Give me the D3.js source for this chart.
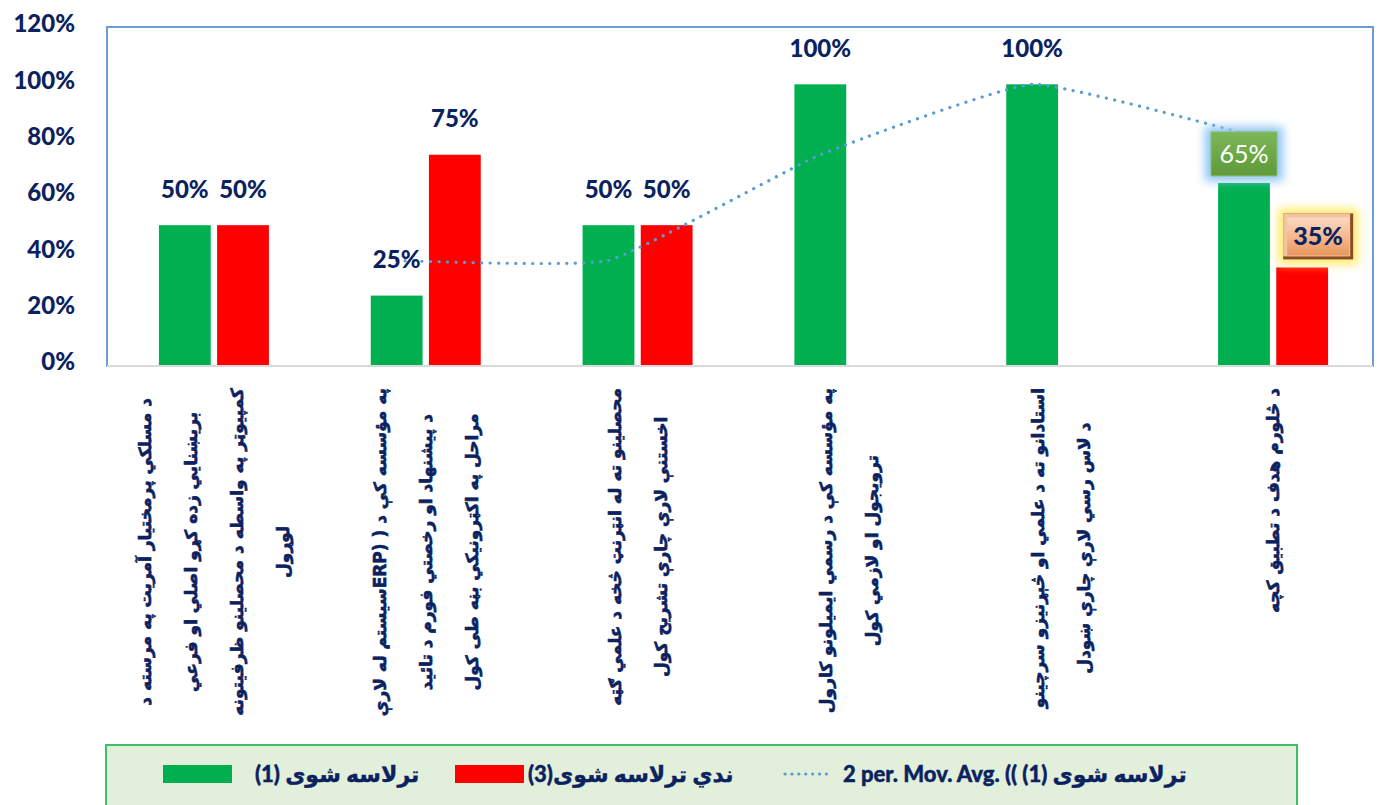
<!DOCTYPE html>
<html>
<head>
<meta charset="utf-8">
<script src="https://cdn.jsdelivr.net/npm/d3@7"></script>
<style>
  body { margin: 0; background: #fff; }
  svg { display: block; }
</style>
</head>
<body>
<div id="chart"></div>
<script>
(function bars(){

  // categories, each one as its lines of text
  const categories = [
    ["د مسلکي پرمختیار آمریت په مرسته د", "بریښنايي زده کړو اصلي او فرعي", "کمپیوټر په واسطه د محصلینو ظرفیتونه", "لوړول"],
    ["په مؤسسه کې د ( (ERPسیستم له لارې", "د پیشنهاد او رخصتي فورم د تائید", "مراحل په اکټرونیکي بڼه طی کول"],
    ["محصلینو ته له انټرنټ څخه د علمي ګټه", "اخستنې لارې چارې تشریح کول"],
    ["په مؤسسه کې د رسمي ایمیلونو کارول", "ترویجول او لازمي کول"],
    ["استادانو ته د علمي او څېړنیزو سرچینو", "د لاس رسي لارې چارې ښودل"],
    ["د څلورم هدف د تطبیق کچه"]
  ];
  const achieved = [0.50, 0.25, 0.50, 1.00, 1.00, 0.65];     // ترلاسه شوی (1)
  const notAchieved = [0.50, 0.75, 0.50, 0, 0, 0.35];        // ندي ترلاسه شوی (3)
  const movingAvg = [null, 0.375, 0.375, 0.75, 1.00, 0.825]; // 2 per. Mov. Avg.
  const yTicks = [0, 0.2, 0.4, 0.6, 0.8, 1.0, 1.2];
  const legendLabels = ["(1) ترلاسه شوی", "(3)ندي ترلاسه  شوی", "2 per. Mov. Avg. (( (1) ترلاسه شوی"];

  const width = 1387, height = 805;
  const navy = "#0b2260", green = "#00b050", red = "#ff0000", blue = "#5b9bd5";
  const font = "Lato, 'DejaVu Sans', sans-serif";

  const svg = d3.select("#chart")
    .append("svg")
    .attr("width", width)
    .attr("height", height);

  const defs = svg.append("defs");
  defs.append("filter").attr("id", "glow")
    .attr("x", "-50%").attr("y", "-50%").attr("width", "200%").attr("height", "200%")
    .append("feGaussianBlur").attr("stdDeviation", 5);
  const gG = defs.append("linearGradient").attr("id", "gGreen").attr("x2", 0).attr("y2", 1);
  gG.append("stop").attr("offset", 0).attr("stop-color", "#7cb65a");
  gG.append("stop").attr("offset", 1).attr("stop-color", "#5e9a38");
  const gP = defs.append("linearGradient").attr("id", "gPeach").attr("x2", 0).attr("y2", 1);
  gP.append("stop").attr("offset", 0).attr("stop-color", "#fbd9c2");
  gP.append("stop").attr("offset", 0.5).attr("stop-color", "#f6b990");
  gP.append("stop").attr("offset", 1).attr("stop-color", "#e8965f");

  const idx = d3.range(categories.length);

  const y = d3.scaleLinear().domain([0, 1.2]).range([366, 28]);
  const x0 = d3.scaleBand().domain(idx).range([108, 1379]);
  const x1 = d3.scaleBand().domain(["a", "n"]).range([0, 110]).paddingInner(12 / 110);
  const off = (x0.bandwidth() - 110) / 2;
  const bx = (i, s) => x0(i) + off + x1(s);

  // plot frame
  svg.append("rect")
    .attr("x", 107).attr("y", 27).attr("width", 1266).attr("height", 339)
    .attr("fill", "none").attr("stroke", "#6d9fd6").attr("stroke-width", 2);

  // y axis labels
  const yAxis = svg.append("g")
    .attr("transform", "translate(107,-4)")
    .call(d3.axisLeft(y).tickValues(yTicks).tickFormat(d3.format(".0%")).tickSize(0).tickPadding(32));
  yAxis.select(".domain").remove();
  yAxis.selectAll("text")
    .attr("fill", navy).attr("font-family", font).attr("font-weight", "900").attr("font-size", 24);

  // bars
  const series = [["a", achieved, green], ["n", notAchieved, red]];
  series.forEach(([key, vals, color]) => {
    svg.append("g").selectAll("rect")
      .data(idx.filter(i => vals[i] > 0))
      .join("rect")
      .attr("x", i => bx(i, key))
      .attr("y", i => y(vals[i]))
      .attr("width", x1.bandwidth())
      .attr("height", i => y(0) - y(vals[i]))
      .attr("fill", color);
  });

  // bottom axis line
  svg.append("line")
    .attr("x1", 107).attr("x2", 1373).attr("y1", y(0)).attr("y2", y(0))
    .attr("stroke", "#d9d9d9").attr("stroke-width", 2);

  // moving average trendline through the green bars
  const ma = idx.filter(i => movingAvg[i] != null);
  svg.append("path")
    .attr("d", d3.line()
      .x(i => bx(i, "a") + x1.bandwidth() / 2)
      .y(i => y(movingAvg[i]))
      .curve(d3.curveCardinal.tension(0.6))(ma))
    .attr("fill", "none").attr("stroke", blue).attr("stroke-width", 3.2)
    .attr("stroke-linecap", "round").attr("stroke-dasharray", "0.1 8.4");

  // plain value labels
  const last = categories.length - 1;
  series.forEach(([key, vals]) => {
    svg.append("g").selectAll("text")
      .data(idx.filter(i => vals[i] > 0 && i !== last))
      .join("text")
      .attr("x", i => bx(i, key) + x1.bandwidth() / 2)
      .attr("y", i => y(vals[i]) - 36)
      .attr("dy", "0.35em")
      .attr("text-anchor", "middle")
      .attr("fill", navy).attr("font-family", font).attr("font-weight", "900").attr("font-size", 24)
      .text(i => d3.format(".0%")(vals[i]));
  });

  // highlighted labels of the last category
  const gx = bx(last, "a") + x1.bandwidth() / 2;
  const gy = y(achieved[last]) - 29;
  const lg = svg.append("g").attr("transform", `translate(${gx},${gy})`);
  lg.append("rect").attr("x", -39).attr("y", -27).attr("width", 78).attr("height", 54)
    .attr("fill", "#8cc4f6").attr("filter", "url(#glow)");
  lg.append("rect").attr("x", -33).attr("y", -22).attr("width", 66).attr("height", 44)
    .attr("fill", "url(#gGreen)").attr("stroke", "#8cc06a").attr("stroke-width", 1);
  lg.append("text").attr("dy", "0.36em").attr("text-anchor", "middle")
    .attr("fill", "#fff").attr("font-family", font).attr("font-size", 25)
    .text(d3.format(".0%")(achieved[last]));

  const rx = bx(last, "n") + x1.bandwidth() / 2 + 16;
  const ry = y(notAchieved[last]) - 31;
  const lr = svg.append("g").attr("transform", `translate(${rx},${ry})`);
  lr.append("rect").attr("x", -40).attr("y", -28).attr("width", 80).attr("height", 56)
    .attr("fill", "#ffeb6e").attr("filter", "url(#glow)");
  lr.append("rect").attr("x", -35).attr("y", -23).attr("width", 70).attr("height", 46)
    .attr("fill", "#8a4a22");
  lr.append("rect").attr("x", -35).attr("y", -23).attr("width", 67).attr("height", 43)
    .attr("fill", "#f3c3a0");
  lr.append("rect").attr("x", -31).attr("y", -19).attr("width", 62).attr("height", 38)
    .attr("fill", "url(#gPeach)");
  lr.append("text").attr("dy", "0.36em").attr("text-anchor", "middle")
    .attr("fill", navy).attr("font-family", font).attr("font-weight", "900").attr("font-size", 25)
    .text(d3.format(".0%")(notAchieved[last]));

  // rotated category labels
  const lineGap = 46, top = 388;
  idx.forEach(i => {
    const cx = x0(i) + x0.bandwidth() / 2;
    const lines = categories[i];
    const g = svg.append("g").attr("transform", `translate(${cx},${top}) rotate(-90)`);
    const t = g.selectAll("text")
      .data(lines)
      .join("text")
      .attr("y", (d, k) => (k - (lines.length - 1) / 2) * lineGap)
      .attr("dominant-baseline", "central")
      .attr("text-anchor", "middle")
      .attr("direction", "rtl")
      .attr("fill", navy).attr("stroke", navy).attr("stroke-width", 0.6)
      .attr("font-family", "'DejaVu Sans', sans-serif")
      .attr("font-weight", "bold").attr("font-size", 17)
      .text(d => d);
    const maxW = d3.max(t.nodes(), n => n.getComputedTextLength());
    t.attr("x", -maxW / 2);
  });

  // legend
  svg.append("rect")
    .attr("x", 106).attr("y", 745).attr("width", 1191).attr("height", 70)
    .attr("fill", "#e2efda").attr("stroke", "#3fbd63").attr("stroke-width", 2);
  const lgItems = [
    { x: 163, tx: 255, type: "rect", color: green },
    { x: 455, tx: 528, type: "rect", color: red },
    { x: 785, tx: 843, type: "line", color: blue }
  ];
  lgItems.forEach((it, k) => {
    if (it.type === "rect") {
      svg.append("rect").attr("x", it.x).attr("y", 765).attr("width", 69).attr("height", 18).attr("fill", it.color);
    } else {
      svg.append("line").attr("x1", it.x).attr("x2", it.x + 48).attr("y1", 774).attr("y2", 774)
        .attr("stroke", it.color).attr("stroke-width", 3.2).attr("stroke-linecap", "round")
        .attr("stroke-dasharray", "0.1 6.8");
    }
    svg.append("text")
      .attr("x", it.tx)
      .attr("y", 774).attr("dy", "0.35em")
      .attr("fill", navy).attr("stroke", navy).attr("stroke-width", 0.4)
      .attr("font-family", font).attr("font-weight", "900").attr("font-size", 22)
      .text(legendLabels[k]);
  });

})();
</script>
</body>
</html>
